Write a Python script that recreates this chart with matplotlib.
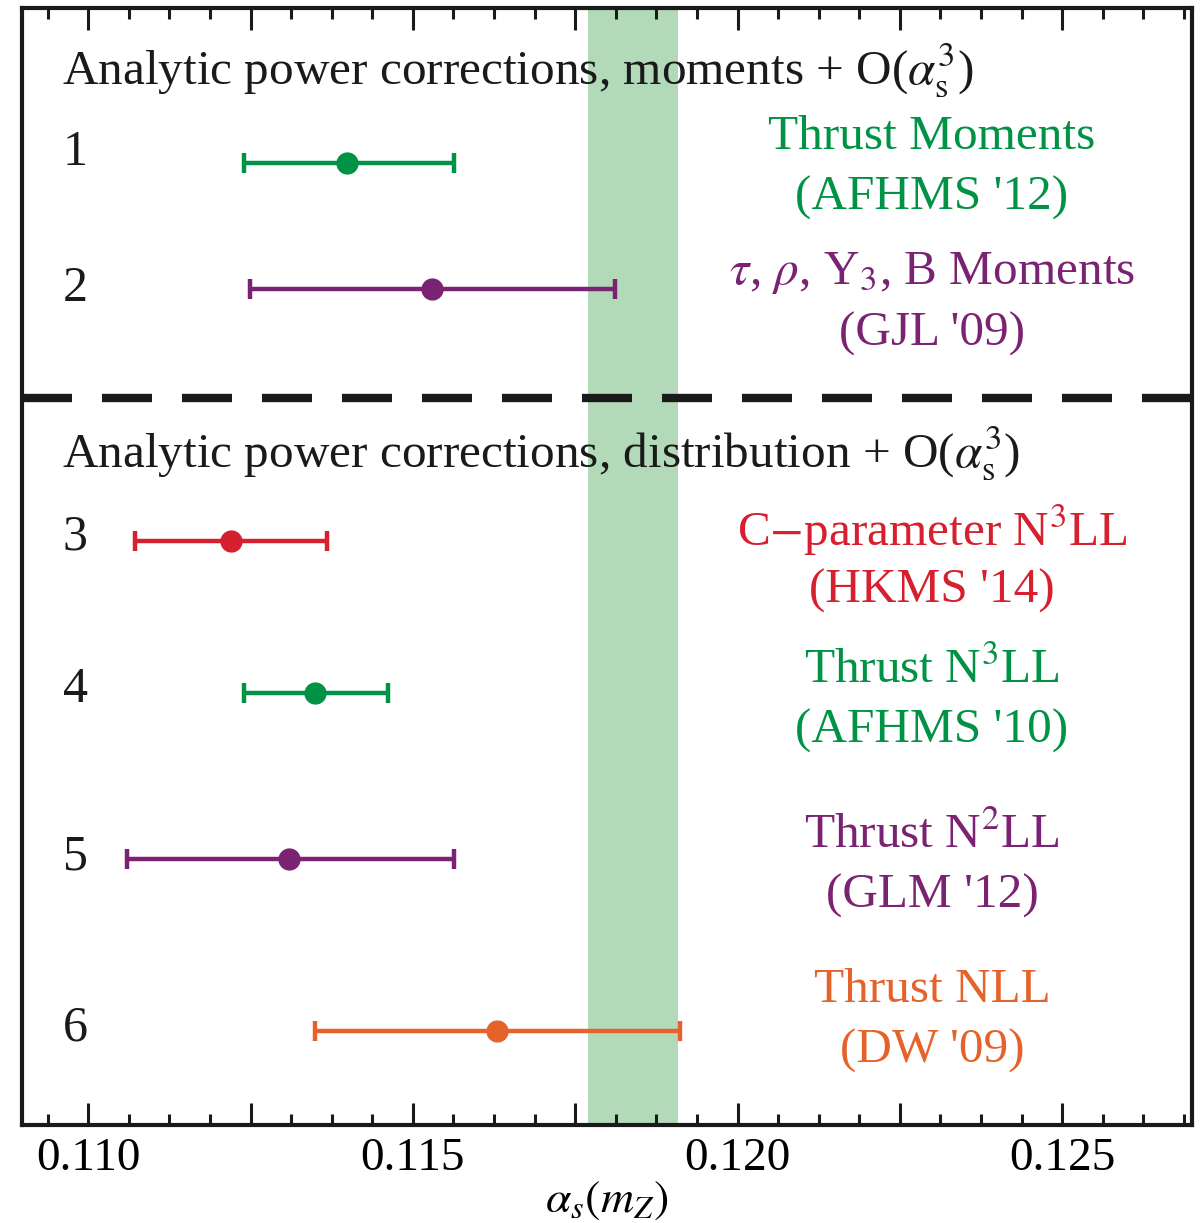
import matplotlib
matplotlib.use("Agg")
import matplotlib.pyplot as plt
from matplotlib.ticker import MultipleLocator

plt.rcParams['font.family'] = ['Liberation Serif', 'DejaVu Serif']
plt.rcParams['mathtext.fontset'] = 'stix'

# alpha_s(m_Z) determinations
numbers = ['1', '2', '3', '4', '5', '6']
centers = [0.11398, 0.11529, 0.11220, 0.11349, 0.11309, 0.11629]
lower = [0.11240, 0.11249, 0.11072, 0.11240, 0.11060, 0.11349]
upper = [0.11563, 0.11811, 0.11368, 0.11462, 0.11563, 0.11911]
names = ['Thrust Moments', r'$\tau$, $\rho$, Y$_3$, B Moments',
         r'C$-$parameter N$^3$LL', r'Thrust N$^3$LL',
         r'Thrust N$^2$LL', 'Thrust NLL']
refs = ["(AFHMS '12)", "(GJL '09)", "(HKMS '14)", "(AFHMS '10)",
        "(GLM '12)", "(DW '09)"]
colors = ['#009245', '#7b2373', '#d61f2f', '#009245', '#7b2373', '#e5632a']
world_avg = (0.11769, 0.11909)
headers = [r'Analytic power corrections, moments + O($\alpha_{\rm s}^3$)',
           r'Analytic power corrections, distribution + O($\alpha_{\rm s}^3$)']

# layout (vertical positions in pixel rows from top)
row_y = [163, 289, 541, 693, 859, 1031]
number_y = [153, 289, 537, 690, 857, 1028]
name_y = [137, 273, 530, 670, 835, 990]
header_y = [70, 453]
divider_y = 398

fig = plt.figure(figsize=(12.02, 12.23), dpi=100)
ax = fig.add_axes([22 / 1202, 1 - 1125 / 1223, 1170 / 1202, 1117 / 1223])
ax.set_xlim(0.10898, 0.12700)
ax.set_ylim(1125, 8)

ax.axvspan(*world_avg, color='#b2dab8', lw=0, zorder=0)
ax.axhline(divider_y, color='#1a1a1a', lw=6, dashes=(6, 3.6), zorder=3)

for i in range(len(centers)):
    c = centers[i]
    ax.errorbar(c, row_y[i], xerr=[[c - lower[i]], [upper[i] - c]],
                fmt='o', color=colors[i], ms=15, elinewidth=3.2,
                capsize=7, capthick=3.2, zorder=4)
    ax.annotate(numbers[i], xy=(0, number_y[i]), xycoords=('axes fraction', 'data'),
                xytext=(53, 0), textcoords='offset pixels',
                fontsize=36, ha='center', va='center', color='#1a1a1a')
    ax.annotate(names[i], xy=(0, name_y[i]), xycoords=('axes fraction', 'data'),
                xytext=(910, 0), textcoords='offset pixels',
                fontsize=35.5, ha='center', va='center', color=colors[i])
    ax.annotate(refs[i], xy=(0, name_y[i] + 61), xycoords=('axes fraction', 'data'),
                xytext=(910, 0), textcoords='offset pixels',
                fontsize=35.5, ha='center', va='center', color=colors[i])

for h, y in zip(headers, header_y):
    ax.annotate(h, xy=(0, y), xycoords=('axes fraction', 'data'),
                xytext=(40, 0), textcoords='offset pixels',
                fontsize=35.5, ha='left', va='center', color='#1a1a1a', zorder=5)

ax.set_yticks([])
ax.xaxis.set_minor_locator(MultipleLocator(0.000625))
ax.set_xticks([0.110, 0.1125, 0.115, 0.1175, 0.120, 0.1225, 0.125])
ax.set_xticklabels(['0.110', '', '0.115', '', '0.120', '', '0.125'])
ax.tick_params(axis='x', which='major', direction='in', top=True, length=16,
               width=2.2, labelsize=34, pad=9, color='#1a1a1a')
ax.tick_params(axis='x', which='minor', direction='in', top=True, length=8,
               width=2.2, color='#1a1a1a')
for s in ax.spines.values():
    s.set_linewidth(3)
    s.set_color('#1a1a1a')

ax.set_xlabel(r'$\alpha_s(m_Z)$', fontsize=33, labelpad=0)

fig.savefig('out.png', dpi=100)
